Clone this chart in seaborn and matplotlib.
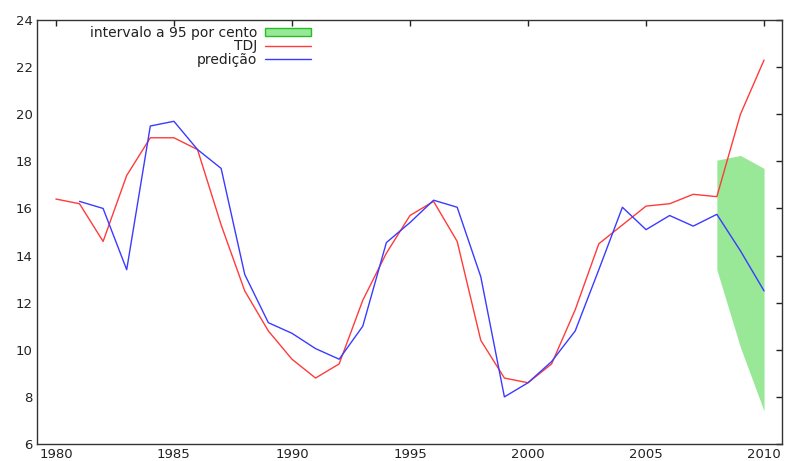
import matplotlib
matplotlib.use("Agg")
import matplotlib.pyplot as plt
import seaborn as sns
import pandas as pd
from matplotlib.patches import Patch
from matplotlib.lines import Line2D

years_tdj = list(range(1980, 2011))
tdj = [16.4, 16.2, 14.6, 17.4, 19.0, 19.0, 18.5, 15.3, 12.5, 10.8,
       9.6, 8.8, 9.4, 12.1, 14.1, 15.7, 16.3, 14.6, 10.4, 8.8,
       8.6, 9.4, 11.7, 14.5, 15.3, 16.1, 16.2, 16.6, 16.5, 20.0, 22.3]

years_pred = list(range(1981, 2011))
pred = [16.3, 16.0, 13.4, 19.5, 19.7, 18.5, 17.7, 13.2, 11.15, 10.7,
        10.05, 9.6, 11.0, 14.55, 15.4, 16.35, 16.05, 13.1, 8.0, 8.6,
        9.5, 10.8, 13.4, 16.05, 15.1, 15.7, 15.25, 15.75, 14.2, 12.5]

years_band = [2008, 2009, 2010]
band_low = [13.4, 10.1, 7.4]
band_high = [18.05, 18.25, 17.7]

labels = ["intervalo a 95 por cento", "TDJ", "predição"]
xticks = [1980, 1985, 1990, 1995, 2000, 2005, 2010]
yticks = [6, 8, 10, 12, 14, 16, 18, 20, 22, 24]

sns.set_style("white")
plt.rcParams['font.family'] = ['DejaVu Sans']

fig = plt.figure(figsize=(7.85, 4.61), dpi=100)
ax = fig.add_axes([37/785, 1-444/461, (782-37)/785, (444-20)/461])

red = "#ff3b3b"
blue = "#3b3bff"
fill = "#98e898"

ax.fill_between(years_band, band_low, band_high, color=fill, linewidth=0, zorder=1)
df_t = pd.DataFrame({"ano": years_tdj, "v": tdj})
df_p = pd.DataFrame({"ano": years_pred, "v": pred})
sns.lineplot(data=df_t, x="ano", y="v", ax=ax, color=red, linewidth=1.0, zorder=3)
sns.lineplot(data=df_p, x="ano", y="v", ax=ax, color=blue, linewidth=1.0, zorder=3)

ax.set_xlim(1979.2, 2010.76)
ax.set_ylim(6, 24)
ax.set_xticks(xticks)
ax.set_yticks(yticks)
ax.set_xlabel("")
ax.set_ylabel("")
ax.tick_params(direction="in", length=4, width=1, top=True, right=True,
               labelsize=9.5, colors="#222222", pad=3)
for s in ax.spines.values():
    s.set_color("#333333")
    s.set_linewidth(1.0)
    s.set_visible(True)

handles = [Patch(facecolor=fill, edgecolor="#22c022", linewidth=1.0),
           Line2D([], [], color=red, linewidth=1.0),
           Line2D([], [], color=blue, linewidth=1.0)]
leg = ax.legend(handles, labels, loc="upper right", markerfirst=False, frameon=False,
                bbox_to_anchor=(318/785, 1-19/461), bbox_transform=fig.transFigure,
                fontsize=10, handlelength=3.3, handleheight=0.6, handletextpad=0.6,
                labelspacing=-0.05, borderpad=0.0)
for t in leg.get_texts():
    t.set_ha("right")
    t.set_color("#222222")
leg._legend_box.align = "right"

fig.savefig("out.png", dpi=100)
